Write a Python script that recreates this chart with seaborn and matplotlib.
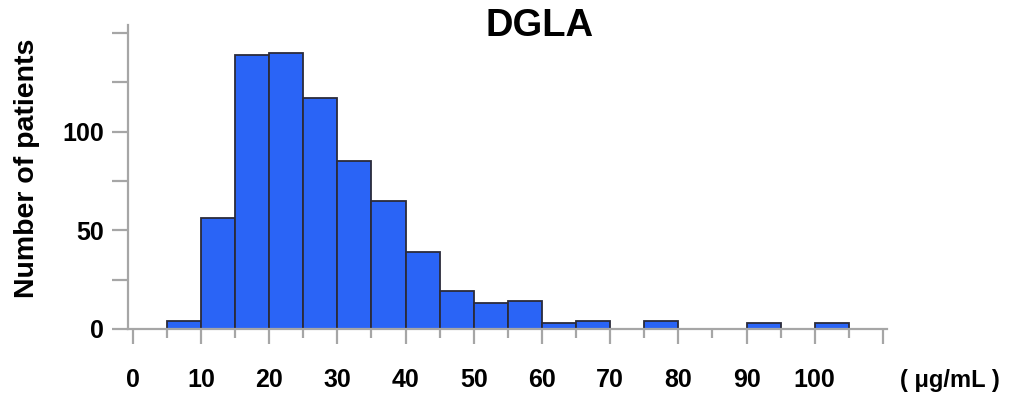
import numpy as np
import matplotlib
matplotlib.use("Agg")
import matplotlib.pyplot as plt
import seaborn as sns

# Histogram data (DGLA, ug/mL)
bin_edges = [5, 10, 15, 20, 25, 30, 35, 40, 45, 50, 55, 60, 65, 70, 75, 80, 85, 90, 95, 100, 105]
counts = [4, 56, 139, 140, 117, 85, 65, 39, 19, 13, 14, 3, 4, 0, 4, 0, 0, 3, 0, 3]
x_ticks = [0, 10, 20, 30, 40, 50, 60, 70, 80, 90, 100]
y_ticks = [0, 50, 100]

bin_centers = [(a + b) / 2 for a, b in zip(bin_edges[:-1], bin_edges[1:])]

sns.set_style("white")
plt.rcParams["font.family"] = ["Liberation Sans", "DejaVu Sans"]

fig = plt.figure(figsize=(10.2, 3.96), dpi=100)
ax = fig.add_axes([128 / 1020, 67 / 396, (887 - 128) / 1020, (329 - 25) / 396])

sns.histplot(x=bin_centers, weights=counts, bins=bin_edges, ax=ax,
             color="#2a64f6", alpha=1, edgecolor="#2b2b3a", linewidth=1.3)

ax.set_xlim(-0.7, 110.6)
ax.set_ylim(0, 154)

grey = "#a6a6a6"
for s in ["top", "right"]:
    ax.spines[s].set_visible(False)
for s in ["left", "bottom"]:
    ax.spines[s].set_color(grey)
    ax.spines[s].set_linewidth(1.6)

ax.set_xticks(x_ticks + [110])
ax.set_xticklabels([str(t) for t in x_ticks] + [""])
ax.set_xticks(np.arange(5, 110, 10), minor=True)
ax.set_yticks(y_ticks)
ax.set_yticks([25, 75, 125, 150], minor=True)

ax.tick_params(axis="x", which="major", bottom=True, length=11, width=1.6, color=grey,
               pad=17, labelsize=18, labelcolor="black")
ax.tick_params(axis="x", which="minor", bottom=True, length=6.5, width=1.6, color=grey)
ax.tick_params(axis="y", which="both", left=True, length=11.5, width=1.6, color=grey,
               pad=6, labelsize=18, labelcolor="black")
for lab in ax.get_xticklabels() + ax.get_yticklabels():
    lab.set_fontweight("bold")

ax.set_xlabel("")
ax.set_ylabel("Number of patients", fontsize=20.5, fontweight="bold", color="black")
ax.yaxis.set_label_coords((40 - 128) / 759, 0.53)

fig.text(540 / 1020, 1 - 26 / 396, "DGLA", fontsize=27.5, fontweight="bold",
         ha="center", va="center", color="black")
fig.text(950 / 1020, 1 - 380 / 396, "( μg/mL )", fontsize=17, fontweight="bold",
         ha="center", va="center", color="black")

fig.savefig("out.png", dpi=100)
